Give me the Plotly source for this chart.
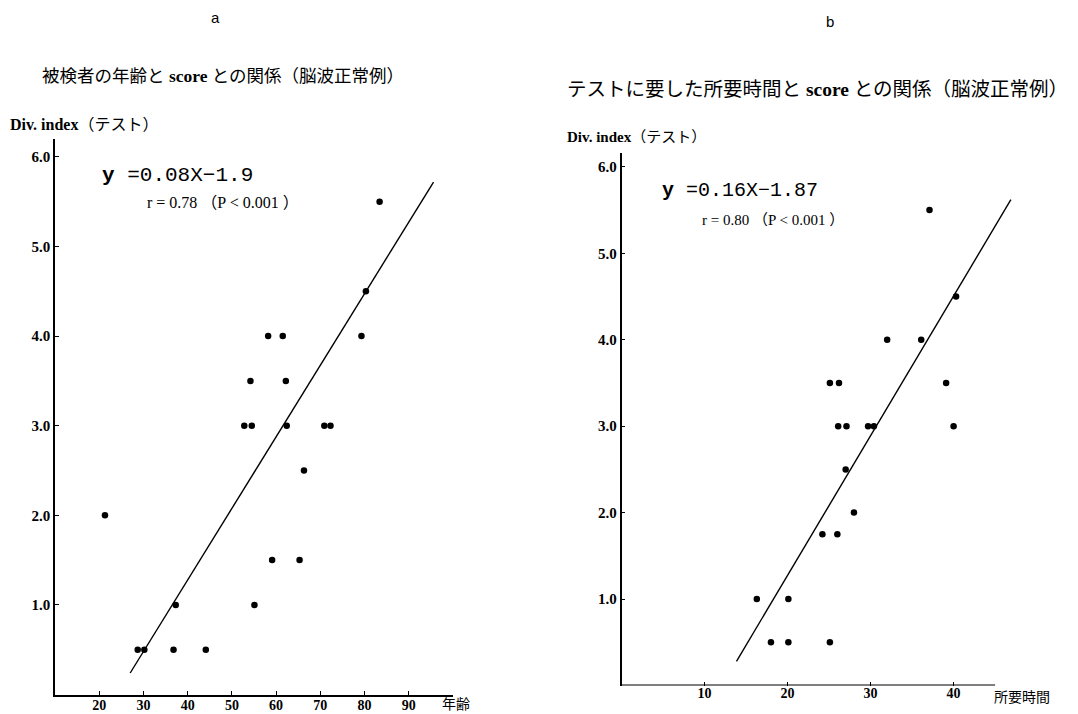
import plotly.graph_objects as go

# ---- Panel a: age vs Div. index ----
age = [21.3, 28.7, 30.2, 36.8, 37.3, 44.1, 52.8, 54.5, 62.4, 70.9, 72.3,
       66.3, 59.1, 65.3, 55.1, 54.2, 62.2, 58.2, 61.5, 79.3, 80.3, 83.4]
score_a = [2.0, 0.5, 0.5, 0.5, 1.0, 0.5, 3.0, 3.0, 3.0, 3.0, 3.0,
           2.5, 1.5, 1.5, 1.0, 3.5, 3.5, 4.0, 4.0, 4.0, 4.5, 5.5]
line_a_x = [27.0, 95.6]
line_a_y = [0.24, 5.72]

# ---- Panel b: time vs Div. index ----
time_b = [16.3, 18.0, 20.1, 20.1, 25.1, 24.2, 26.0, 28.0, 27.0, 26.1, 27.1,
          29.7, 30.4, 40.0, 25.1, 26.2, 39.1, 32.0, 36.1, 40.3, 37.1]
score_b = [1.0, 0.5, 0.5, 1.0, 0.5, 1.75, 1.75, 2.0, 2.5, 3.0, 3.0,
           3.0, 3.0, 3.0, 3.5, 3.5, 3.5, 4.0, 4.0, 4.5, 5.5]
line_b_x = [13.85, 46.9]
line_b_y = [0.28, 5.62]

xticks_a = [20, 30, 40, 50, 60, 70, 80, 90]
xticks_b = [10, 20, 30, 40]
yticks = [1.0, 2.0, 3.0, 4.0, 5.0, 6.0]
ytick_text = ["1.0", "2.0", "3.0", "4.0", "5.0", "6.0"]

W, H = 1078, 714
OFF = 8  # page body margin
SERIF = "Liberation Serif, Noto Sans CJK JP"
fig = go.Figure()

fig.add_trace(go.Scatter(x=age, y=score_a, mode="markers",
                         marker=dict(color="black", size=6.5),
                         xaxis="x", yaxis="y", cliponaxis=False, showlegend=False))
fig.add_trace(go.Scatter(x=line_a_x, y=line_a_y, mode="lines",
                         line=dict(color="black", width=1.4),
                         xaxis="x", yaxis="y", showlegend=False))
fig.add_trace(go.Scatter(x=time_b, y=score_b, mode="markers",
                         marker=dict(color="black", size=6.5),
                         xaxis="x2", yaxis="y2", cliponaxis=False, showlegend=False))
fig.add_trace(go.Scatter(x=line_b_x, y=line_b_y, mode="lines",
                         line=dict(color="black", width=1.4),
                         xaxis="x2", yaxis="y2", showlegend=False))

tickfont = dict(family="Liberation Serif", size=15, color="black", weight="bold")
xtickfont = dict(family="Liberation Serif", size=14, color="black", weight="bold")
common_x = dict(showgrid=False, zeroline=False, ticks="inside", ticklen=4,
                tickwidth=1.2, tickcolor="black", tickfont=xtickfont)
common_y = dict(showgrid=False, zeroline=False, ticks="inside", ticklen=4,
                tickwidth=1.2, tickcolor="black", tickfont=tickfont,
                tickvals=yticks, ticktext=ytick_text, showline=True,
                linecolor="black", linewidth=1.6)

def px(x):
    return (x - OFF) / W

def py(y):
    return 1 - (y - OFF) / H

fig.update_layout(
    width=W, height=H,
    margin=dict(l=0, r=0, t=0, b=0),
    paper_bgcolor="white", plot_bgcolor="white",
    xaxis=dict(domain=[px(55), px(453)], range=[10, 100], tickvals=xticks_a,
               showline=True, linecolor="black", linewidth=1.8,
               anchor="y", ticklabelstandoff=-3, **common_x),
    yaxis=dict(domain=[py(694.5), py(139)], range=[0, 6.2], anchor="x",
               **common_y),
    xaxis2=dict(domain=[px(621.5), px(1020)], range=[0, 48], tickvals=xticks_b,
                showline=False, anchor="y2", ticklabelstandoff=-3, **common_x),
    yaxis2=dict(domain=[py(685.5), py(153)], range=[0, 6.16], anchor="x2",
                **common_y),
)

# x axis line for panel b (shorter than plot range)
fig.add_shape(type="line", xref="x2", yref="y2", x0=0, x1=45, y0=0, y1=0,
              line=dict(color="black", width=1.8))

def ann(text, x, y, size, family=SERIF, xanchor="left"):
    fig.add_annotation(text=text, x=px(x), y=py(y), xref="paper", yref="paper",
                       xanchor=xanchor, yanchor="middle", showarrow=False,
                       font=dict(family=family, size=size, color="black"))

ann("a", 215, 18, 15, family="Liberation Sans", xanchor="center")
ann("b", 830, 21, 15, family="Liberation Sans", xanchor="center")
ann("被検者の年齢と <b>score</b> との関係（脳波正常例）", 40, 76, 17.5)
ann("テストに要した所要時間と <b>score</b> との関係（脳波正常例）", 565, 89, 19.5)
ann("<b>Div. index</b>（テスト）", 8, 125, 16)
ann("<b>Div. index</b>（テスト）", 565, 137, 15)
ann("<b>y</b> =0.08X−1.9", 100, 175, 21, family="Liberation Mono")
ann("<b>y</b> =0.16X−1.87", 660, 190, 20, family="Liberation Mono")
ann("r = 0.78 （P < 0.001 ）", 145, 203, 16)
ann("r = 0.80 （P < 0.001 ）", 700, 220, 15)
ann("年齢", 440, 704, 14)
ann("所要時間", 992, 697, 14)

fig.write_html("out.html")
